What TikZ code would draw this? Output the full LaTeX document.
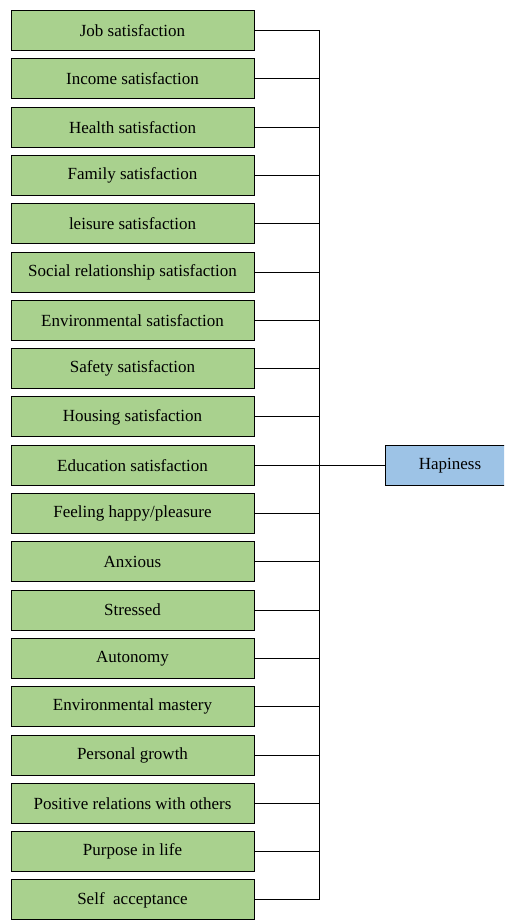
\documentclass[tikz,border=0pt]{standalone}
\usepackage{fontspec}
\setmainfont{Liberation Serif}
\usetikzlibrary{positioning}

\definecolor{factorgreen}{HTML}{A9D18E}
\definecolor{targetblue}{HTML}{9DC3E6}
\tikzset{
	factor/.style={draw=black, line width=1pt, fill=factorgreen,
		minimum width=243pt, minimum height=40pt, inner sep=0pt,
		font=\fontsize{17}{19}\selectfont},
	target/.style={factor, fill=targetblue, minimum width=130pt},
	link/.style={line width=0.9pt}
}

\begin{document}
\begin{tikzpicture}[x=1pt,y=-1pt]
	\useasboundingbox (0, 0) rectangle (504, 920);
	\clip (0, 0) rectangle (504, 920);

	\foreach \label [count=\i] in {Job satisfaction, Income satisfaction,
			Health satisfaction, Family satisfaction, leisure satisfaction,
			Social relationship satisfaction, Environmental satisfaction,
			Safety satisfaction, Housing satisfaction, Education satisfaction,
			Feeling happy/pleasure, Anxious, Stressed, Autonomy,
			Environmental mastery, Personal growth,
			Positive relations with others, Purpose in life,
			Self\ \ acceptance}
		\node [factor] (f\i) at (132.5, {30.5 + (\i - 1) * 48.3}) {\label};

	\coordinate (bus) at (319, 0);
	\node [target, right=130pt of f10] (happy) {Hapiness};

	% each factor joins the vertical bus
	\foreach \i in {1,...,19}
		\draw [link] (f\i.east) -- (f\i.east -| bus);
	\draw [link] (f1.east -| bus) -- (f19.east -| bus);
	\draw [link] (f10.east -| bus) -- (happy.west);

\end{tikzpicture}
\end{document}
